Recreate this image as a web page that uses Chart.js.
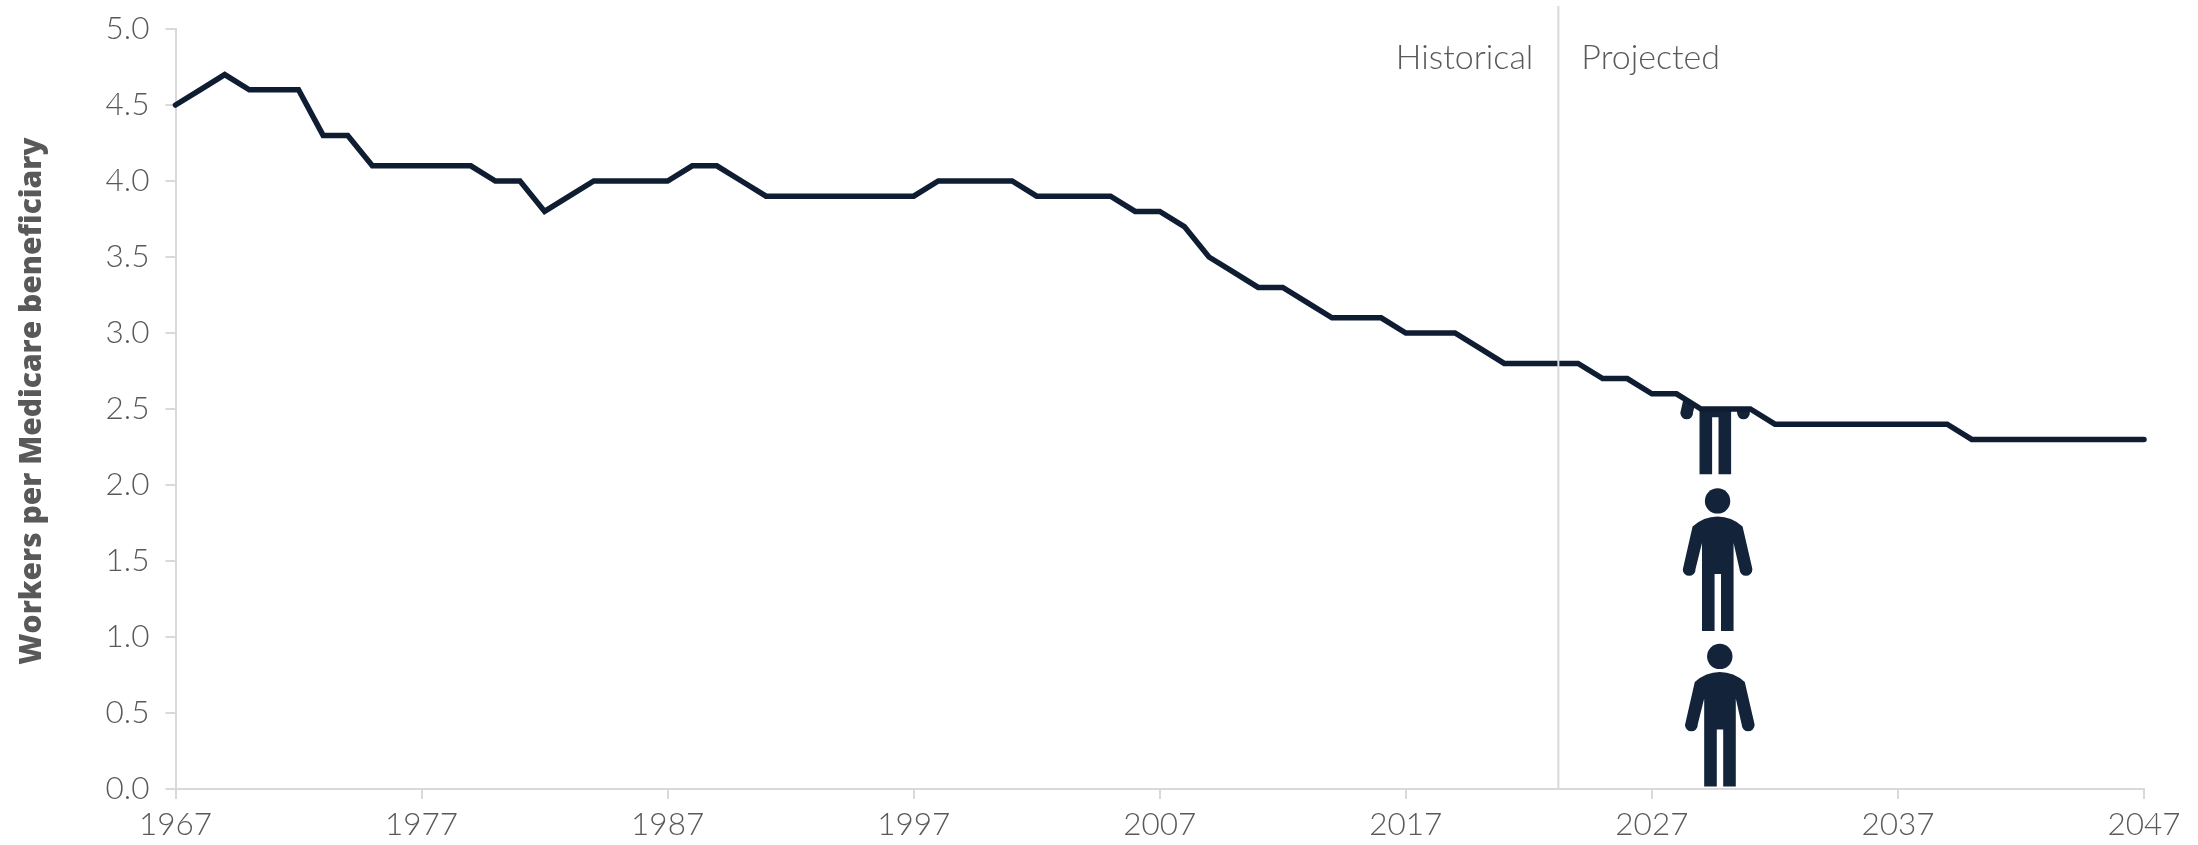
<!DOCTYPE html>
<html>
<head>
<meta charset="utf-8">
<title>Workers per Medicare beneficiary</title>
<script src="https://cdn.jsdelivr.net/npm/chart.js@4"></script>
<style>
    html, body { margin: 0; padding: 0; background: #fff; }
    canvas { display: block; }
</style>
</head>
<body>
<canvas id="chart" width="2198" height="845"></canvas>
<script>
const years = [
    1967, 1968, 1969, 1970, 1971, 1972, 1973, 1974, 1975, 1976,
    1977, 1978, 1979, 1980, 1981, 1982, 1983, 1984, 1985, 1986,
    1987, 1988, 1989, 1990, 1991, 1992, 1993, 1994, 1995, 1996,
    1997, 1998, 1999, 2000, 2001, 2002, 2003, 2004, 2005, 2006,
    2007, 2008, 2009, 2010, 2011, 2012, 2013, 2014, 2015, 2016,
    2017, 2018, 2019, 2020, 2021, 2022, 2023, 2024, 2025, 2026,
    2027, 2028, 2029, 2030, 2031, 2032, 2033, 2034, 2035, 2036,
    2037, 2038, 2039, 2040, 2041, 2042, 2043, 2044, 2045, 2046,
    2047
]
const workers = [
    4.5, 4.6, 4.7, 4.6, 4.6, 4.6, 4.3, 4.3, 4.1, 4.1,
    4.1, 4.1, 4.1, 4.0, 4.0, 3.8, 3.9, 4.0, 4.0, 4.0,
    4.0, 4.1, 4.1, 4.0, 3.9, 3.9, 3.9, 3.9, 3.9, 3.9,
    3.9, 4.0, 4.0, 4.0, 4.0, 3.9, 3.9, 3.9, 3.9, 3.8,
    3.8, 3.7, 3.5, 3.4, 3.3, 3.3, 3.2, 3.1, 3.1, 3.1,
    3.0, 3.0, 3.0, 2.9, 2.8, 2.8, 2.8, 2.8, 2.7, 2.7,
    2.6, 2.6, 2.5, 2.5, 2.5, 2.4, 2.4, 2.4, 2.4, 2.4,
    2.4, 2.4, 2.4, 2.3, 2.3, 2.3, 2.3, 2.3, 2.3, 2.3,
    2.3
]
const dividerYear = 2023.2
const periodLabels = ['Historical', 'Projected']
const yAxisTitle = 'Workers per Medicare beneficiary'

// stacked people icons: x in years, y of the feet in workers
const peopleX = [2029.57, 2029.67, 2029.76]
const peopleFeet = [2.07, 1.04, 0.017]

const textColor = '#595959'
const axisColor = '#d9d9d9'
const lineColor = '#0f1d33'
const iconColor = '#12233a'
const lightFont = 'Lato'

function drawPerson(c, x, feetY) {
    const hy = feetY - 130
    c.save()
    c.translate(x, hy)
    c.fillStyle = iconColor
    c.beginPath()
    c.arc(0, 0, 12.7, 0, Math.PI * 2)
    c.fill()
    c.beginPath()
    c.moveTo(-25, 25.7)
    c.quadraticCurveTo(-14, 15.7, 0, 15.7)
    c.quadraticCurveTo(14, 15.7, 25, 25.7)
    c.lineTo(34.6, 67)
    c.arc(28.4, 68.5, 6.4, 0, Math.PI)
    c.lineTo(16, 42)
    c.lineTo(16, 130)
    c.lineTo(3.4, 130)
    c.lineTo(3.4, 73)
    c.lineTo(-3, 73)
    c.lineTo(-3, 130)
    c.lineTo(-15.6, 130)
    c.lineTo(-15.6, 42)
    c.lineTo(-22.3, 69)
    c.arc(-28.4, 68.5, 6.4, 0, Math.PI)
    c.closePath()
    c.fill()
    c.restore()
}

const peoplePlugin = {
    id: 'people',
    beforeDatasetsDraw(chart) {
        const c = chart.ctx
        const pts = chart.getDatasetMeta(0).data
        const area = chart.chartArea
        c.save()
        // the icons only show below the line
        c.beginPath()
        c.moveTo(pts[0].x, pts[0].y)
        pts.forEach(p => c.lineTo(p.x, p.y))
        c.lineTo(area.right, area.bottom)
        c.lineTo(area.left, area.bottom)
        c.closePath()
        c.clip()
        peopleX.forEach((v, i) => {
            drawPerson(c, chart.scales.x.getPixelForValue(v), chart.scales.y.getPixelForValue(peopleFeet[i]))
        })
        c.restore()
    }
}

const dividerPlugin = {
    id: 'divider',
    afterDraw(chart) {
        const c = chart.ctx
        const x = chart.scales.x.getPixelForValue(dividerYear)
        c.save()
        c.strokeStyle = axisColor
        c.lineWidth = 2
        c.beginPath()
        c.moveTo(x, 6)
        c.lineTo(x, chart.chartArea.bottom)
        c.stroke()
        c.fillStyle = textColor
        c.font = '300 34px ' + lightFont
        c.textBaseline = 'alphabetic'
        c.textAlign = 'right'
        c.fillText(periodLabels[0], x - 25, 69)
        c.textAlign = 'left'
        c.fillText(periodLabels[1], x + 23, 69)

        // y axis title sits a little above the middle of the axis
        c.translate(32, 401)
        c.rotate(-Math.PI / 2)
        c.textAlign = 'center'
        c.textBaseline = 'middle'
        c.font = '800 30px "Open Sans"'
        c.fillText(yAxisTitle, 0, 0)
        c.restore()
    }
}

new Chart(document.getElementById('chart'), {
    type: 'line',
    data: {
        datasets: [{
            label: yAxisTitle,
            data: years.map((y, i) => ({ x: y, y: workers[i] })),
            borderColor: lineColor,
            borderWidth: 5.5,
            borderJoinStyle: 'miter',
            borderCapStyle: 'round',
            pointRadius: 0,
            tension: 0,
            fill: false,
            clip: false
        }]
    },
    options: {
        responsive: false,
        animation: false,
        layout: { padding: { top: 29, right: 54, bottom: 0, left: 0 } },
        scales: {
            x: {
                type: 'linear',
                min: 1967,
                max: 2047,
                afterFit: s => { s.height = 56; s.paddingLeft = 0; s.paddingRight = 0 },
                grid: { drawOnChartArea: false, color: axisColor, lineWidth: 2, tickLength: 10 },
                border: { color: axisColor, width: 2 },
                ticks: {
                    stepSize: 10,
                    maxRotation: 0,
                    padding: 7,
                    color: textColor,
                    font: { family: lightFont, size: 31.5, weight: '300' },
                    callback: v => String(v)
                }
            },
            y: {
                min: 0,
                max: 5,
                afterFit: s => { s.width = 175.5; s.paddingTop = 0; s.paddingBottom = 0 },
                grid: { drawOnChartArea: false, color: axisColor, lineWidth: 2, tickLength: 10 },
                border: { color: axisColor, width: 2 },
                ticks: {
                    stepSize: 0.5,
                    padding: 16,
                    color: textColor,
                    font: { family: lightFont, size: 31.5, weight: '300' },
                    callback: v => v.toFixed(1)
                }
            }
        },
        plugins: {
            legend: { display: false },
            tooltip: { enabled: false }
        }
    },
    plugins: [peoplePlugin, dividerPlugin]
})
</script>
</body>
</html>
